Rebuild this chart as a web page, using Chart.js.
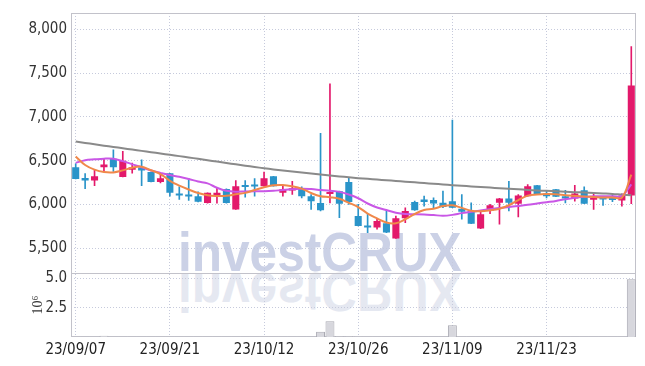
<!DOCTYPE html>
<html><head><meta charset="utf-8">
<script src="https://cdn.jsdelivr.net/npm/chart.js@4"></script>
<style>
html,body{margin:0;padding:0;background:#fff;}
#wrap{position:relative;width:645px;height:366px;overflow:hidden;}
.wm{position:absolute;left:178px;top:224px;font:bold 56px "Liberation Sans",Arial,sans-serif;line-height:56px;white-space:nowrap;color:#cbd1e6;transform-origin:0 47px;transform:scaleX(0.885);}
.wm.r{color:#e5e8f1;transform:scaleX(0.885) scaleY(-1) translateY(-2px);}
canvas{position:absolute;left:0;top:0;}
</style></head><body>
<div id="wrap">
<div class="wm">investCRUX</div>
<div class="wm r">investCRUX</div>
<canvas id="c" width="645" height="366"></canvas>
</div>
<script>
const dates = ['23/09/07','23/09/08','23/09/11','23/09/12','23/09/13','23/09/14','23/09/15','23/09/18','23/09/19','23/09/20',
'23/09/21','23/09/22','23/09/25','23/09/26','23/09/27','23/10/04','23/10/05','23/10/06','23/10/10','23/10/11',
'23/10/12','23/10/13','23/10/16','23/10/17','23/10/18','23/10/19','23/10/20','23/10/23','23/10/24','23/10/25',
'23/10/26','23/10/27','23/10/30','23/10/31','23/11/01','23/11/02','23/11/03','23/11/06','23/11/07','23/11/08',
'23/11/09','23/11/10','23/11/13','23/11/14','23/11/15','23/11/16','23/11/17','23/11/20','23/11/21','23/11/22',
'23/11/23','23/11/24','23/11/27','23/11/28','23/11/29','23/11/30','23/12/01','23/12/04','23/12/05','23/12/06'];

const opens = [6426,6302,6272,6426,6522,6313,6397,6423,6370,6256,
6355,6120,6109,6094,6015,6102,6177,5943,6215,6227,
6207,6321,6132,6158,6188,6094,6015,6120,6151,6256,
5867,5754,5735,5785,5610,5841,6026,6057,6049,6018,
6037,5950,5924,5723,5924,6018,6068,6007,6094,6219,
6125,6173,6094,6068,6162,6052,6068,6068,6045,6102];

const closes = [6290,6272,6321,6457,6426,6499,6426,6389,6256,6298,
6132,6102,6091,6029,6132,6132,6015,6207,6200,6204,
6298,6207,6173,6185,6094,6037,5932,6132,6007,6026,
5754,5735,5811,5678,5841,5924,5932,6026,6011,5969,
5962,5916,5780,5887,5989,6068,6018,6102,6207,6113,
6094,6087,6068,6125,6007,6075,6057,6049,6102,7361];

const highs = [6465,6351,6397,6517,6624,6608,6472,6510,6370,6347,
6355,6200,6295,6143,6132,6188,6177,6272,6272,6295,
6370,6321,6207,6264,6200,6113,6812,7379,6151,6302,
6000,5887,5841,5932,5867,5962,6037,6094,6075,6151,
6964,6113,6018,5916,6000,6068,6264,6113,6227,6219,
6160,6173,6160,6219,6200,6120,6083,6105,6120,7806];

const lows = [6290,6181,6215,6370,6378,6313,6358,6215,6256,6245,
6094,6057,6045,6029,6015,6015,6015,5943,6083,6094,
6207,6207,6094,6113,6075,5943,5924,6018,5848,6000,
5754,5678,5717,5678,5610,5792,5932,5981,5955,5962,
5962,5830,5780,5723,5894,5773,5924,5856,6094,6113,
6075,6087,6018,6037,6007,5943,5989,6030,5981,6007];

const ma5 = [6548,6450,6397,6370,6366,6389,6420,6431,6390,6347,
6270,6215,6170,6130,6105,6097,6098,6115,6132,6165,
6195,6218,6222,6207,6180,6130,6094,6083,6064,6018,
5970,5895,5840,5792,5785,5830,5890,5935,5950,5981,
5989,5960,5928,5922,5932,5950,5990,6050,6100,6113,
6118,6115,6105,6097,6090,6085,6080,6080,6078,6340];

const ma20 = [6475,6505,6515,6523,6522,6495,6458,6425,6387,6360,
6335,6315,6290,6262,6240,6190,6155,6145,6148,6150,
6150,6155,6165,6172,6180,6175,6165,6155,6143,6113,
6070,6010,5965,5935,5905,5890,5888,5885,5878,5870,
5880,5900,5915,5930,5945,5960,5970,5982,5995,6010,
6025,6040,6060,6075,6088,6092,6094,6094,6094,6230];

const ma60 = [6718,6703,6688,6672,6657,6642,6627,6612,6597,6582,
6567,6552,6537,6521,6505,6490,6474,6458,6442,6428,
6413,6400,6388,6376,6364,6352,6341,6330,6320,6310,
6300,6292,6284,6276,6268,6260,6252,6244,6236,6228,
6220,6213,6206,6199,6192,6185,6179,6172,6166,6160,
6155,6150,6145,6140,6135,6130,6125,6120,6112,6105];

const volume = [0.02,0.02,0.02,0.11,0.02,0.02,0.02,0.02,0.02,0.02,
0.02,0.02,0.02,0.02,0.02,0.02,0.02,0.02,0.02,0.02,
0.02,0.02,0.02,0.02,0.02,0.02,0.45,1.35,0.06,0.06,
0.05,0.02,0.02,0.02,0.02,0.02,0.02,0.02,0.02,0.02,
1.01,0.02,0.02,0.02,0.02,0.02,0.02,0.02,0.02,0.02,
0.02,0.02,0.02,0.02,0.02,0.02,0.02,0.02,0.02,4.95];

const priceTicks = [5500,6000,6500,7000,7500,8000];
const volumeTicks = [2.5,5.0];

const upColor = '#e3196b', downColor = '#2a94c9';
const gridColor = '#c6cadc';
const tickFont = {family: '"Liberation Sans Narrow","DejaVu Sans Condensed",Roboto,sans-serif', size: 15};
const candleColor = ctx => closes[ctx.dataIndex] >= opens[ctx.dataIndex] ? upColor : downColor;

const frame = {
  id: 'frame',
  beforeDatasetsDraw(chart) {
    const {ctx, chartArea: a, scales} = chart;
    ctx.save();
    ctx.strokeStyle = '#c2c2ca';
    ctx.lineWidth = 1;
    const l = Math.round(a.left) + 0.5, t = Math.round(a.top) + 0.5;
    const r = Math.round(a.right) - 0.5, b = Math.round(a.bottom) - 0.5;
    ctx.strokeRect(l, t, r - l, b - t);
    const yb = Math.round(scales.y.bottom) + 0.5;
    ctx.beginPath(); ctx.moveTo(l, yb); ctx.lineTo(r, yb); ctx.stroke();
    ctx.restore();
  }
};

new Chart(document.getElementById('c'), {
  type: 'bar',
  data: {
    labels: dates,
    datasets: [
      {type: 'line', data: ma5, borderColor: '#f0884a', borderWidth: 2, pointRadius: 0, tension: 0.4, yAxisID: 'y', order: 0},
      {type: 'line', data: ma20, borderColor: '#c957e6', borderWidth: 2, pointRadius: 0, tension: 0.35, yAxisID: 'y', order: 0},
      {type: 'line', data: ma60, borderColor: '#8a8a8a', borderWidth: 2, pointRadius: 0, tension: 0.3, yAxisID: 'y', order: 0},
      {type: 'bar', data: dates.map((d, i) => [opens[i], closes[i]]), backgroundColor: candleColor, borderWidth: 0,
       grouped: false, barPercentage: 0.75, categoryPercentage: 1, minBarLength: 2, yAxisID: 'y', order: 1},
      {type: 'bar', data: dates.map((d, i) => [lows[i], highs[i]]), backgroundColor: candleColor, borderWidth: 0,
       grouped: false, barThickness: 1, categoryPercentage: 1, yAxisID: 'y', order: 2},
      {type: 'bar', data: volume, backgroundColor: '#d7d7dd', borderColor: '#a9a9b2', borderWidth: 1,
       grouped: false, barPercentage: 0.95, categoryPercentage: 1, yAxisID: 'yv', order: 3}
    ]
  },
  options: {
    responsive: false,
    animation: false,
    devicePixelRatio: 1,
    layout: {padding: {left: 24, right: 9, top: 10, bottom: 0}},
    plugins: {legend: {display: false}, tooltip: {enabled: false}},
    scales: {
      x: {
        type: 'category', offset: true,
        grid: {offset: false, drawTicks: false, color: c => c.index % 10 === 0 ? gridColor : 'rgba(0,0,0,0)'},
        border: {display: false, dash: [1, 2]},
        ticks: {autoSkip: false, maxRotation: 0, padding: 4, font: tickFont, color: '#222',
                callback: (v, i) => i % 10 === 0 ? dates[i] : ''},
        afterFit: s => { s.height = 29; }
      },
      y: {
        type: 'linear', position: 'left', stack: 'panels', stackWeight: 262.7, weight: 1,
        min: 5212, max: 8189,
        grid: {drawTicks: false, color: gridColor},
        border: {display: false, dash: [1, 2]},
        ticks: {stepSize: 500, padding: 4, font: tickFont, color: '#333',
                callback: v => v.toLocaleString('en-US')},
        afterBuildTicks: s => { s.ticks = priceTicks.map(v => ({value: v})); },
        afterFit: s => { s.width = 47; }
      },
      yv: {
        type: 'linear', position: 'left', stack: 'panels', stackWeight: 64.3, weight: 0,
        min: 0, max: 5.45,
        grid: {drawTicks: false, color: gridColor},
        border: {display: false, dash: [1, 2]},
        ticks: {padding: 4, font: tickFont, color: '#333', callback: v => v.toFixed(1)},
        afterBuildTicks: s => { s.ticks = volumeTicks.map(v => ({value: v})); },
        title: {display: true, text: '10\u2076', color: '#333', padding: {top: 6, bottom: 0},
                font: {family: '"Liberation Serif","DejaVu Serif",serif', size: 14}},
        afterFit: s => { s.width = 47; }
      }
    }
  },
  plugins: [frame]
});
</script>
</body></html>
